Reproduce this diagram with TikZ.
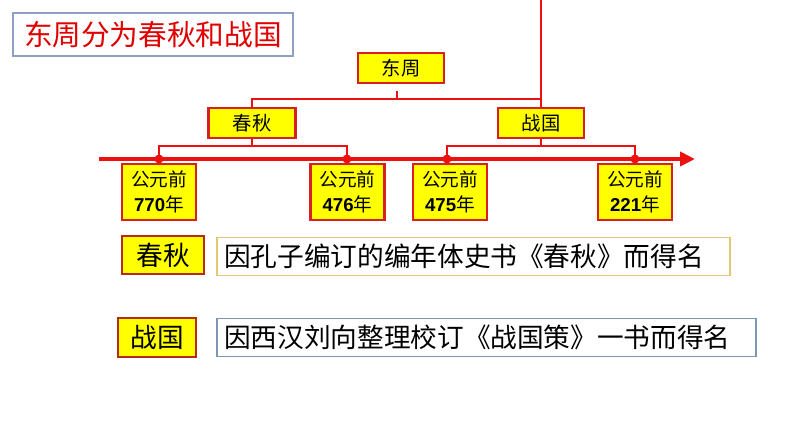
\documentclass[tikz,border=0pt]{standalone}
\usepackage{fontspec}
\setmainfont{Liberation Sans}
\newfontfamily\cjk{Noto Sans CJK SC}
\usetikzlibrary{positioning,arrows.meta}
\definecolor{linered}{HTML}{EC1010}
\definecolor{boxred}{HTML}{D82020}
\definecolor{darkred}{HTML}{B52A1C}
\definecolor{boxyellow}{HTML}{FFFF00}
\definecolor{titlered}{HTML}{E00000}
\definecolor{titleframe}{HTML}{8E9FC6}
\definecolor{goldframe}{HTML}{E2C870}
\definecolor{slateframe}{HTML}{7F96B0}
\def\px{0.75pt}

\begin{document}
\begin{tikzpicture}[x=\px,y=-\px,
 link/.style={linered,line width=1.7pt},
 axis/.style={-{Triangle[length=15*\px,width=14*\px]},linered,line width=3.2pt},
 dot/.style={circle,fill=linered,inner sep=0pt,minimum size=9*\px},
 ybox/.style={draw=boxred,fill=boxyellow,line width=1.6pt,inner sep=0pt,
   minimum height=30*\px,font=\cjk\fontsize{14.5}{16}\selectfont},
 datebox/.style={ybox,minimum width=74*\px,minimum height=56*\px,align=center,
   font=\cjk\fontsize{14}{18.75}\selectfont},
 namebox/.style={ybox,draw=darkred,minimum height=38*\px,
   font=\cjk\fontsize{20}{22}\selectfont},
 notebox/.style={line width=0.8pt,fill=white,inner xsep=7*\px,inner ysep=0pt,
   minimum height=38*\px,align=left,font=\cjk\fontsize{20}{22}\selectfont}]
\useasboundingbox (0,0) rectangle (794,447);
% title
\node[draw=titleframe,line width=0.9pt,minimum width=280*\px,minimum height=43*\px,
  text=titlered,font=\cjk\fontsize{21.5}{24}\selectfont] (title) at (153,34.5) {东周分为春秋和战国};
% tree
\node[ybox,minimum width=86*\px] (dz) at (401,68) {东周};
\node[ybox,minimum width=87*\px] (cq) at (252,123) {春秋};
\node[ybox,minimum width=86*\px] (zg) at (541,123) {战国};
\coordinate (top) at (541,0);
\coordinate (jt) at (397,99);
\coordinate (jcq) at (252,146);
\coordinate (jzg) at (541,146);
\draw[link] (top) -- (zg.north);
\draw[link,shorten <=7*\px] (dz.south -| jt) -- (jt);
\draw[link] (cq.north) |- (zg.north |- jt);
% timeline
\coordinate (tl0) at (99,159);
\coordinate (tl1) at (695,159);
\foreach \n/\x in {1/159,2/347,3/447,4/635}
  \coordinate (t\n) at (\x,159);
\draw[link] (cq.south) -- (jcq);
\draw[link] (t1) |- (jcq) -| (t2);
\draw[link] (zg.south) -- (jzg);
\draw[link] (t3) |- (jzg) -| (t4);
\draw[axis] (tl0) -- (tl1);
\foreach \n in {1,...,4}
  \node[dot] (p\n) at (t\n) {};
\foreach \n/\x/\yr in {1/159/770,2/347.5/476,3/450/475,4/635/221}
  \node[datebox] (d\n) at (\x,192) {公元前\\{\normalfont\bfseries\yr}年};
% notes
\node[namebox,minimum width=82*\px] (ncq) at (163,255) {春秋};
\node[notebox,draw=goldframe,text width=499*\px] (tcq) at (473.5,256.5)
  {因孔子编订的编年体史书《春秋》而得名};
\node[namebox,minimum width=78*\px,minimum height=39*\px] (nzg) at (157,337.5) {战国};
\node[notebox,draw=slateframe,text width=525*\px] (tzg) at (486.5,337.5)
  {因西汉刘向整理校订《战国策》一书而得名};
\end{tikzpicture}
\end{document}
